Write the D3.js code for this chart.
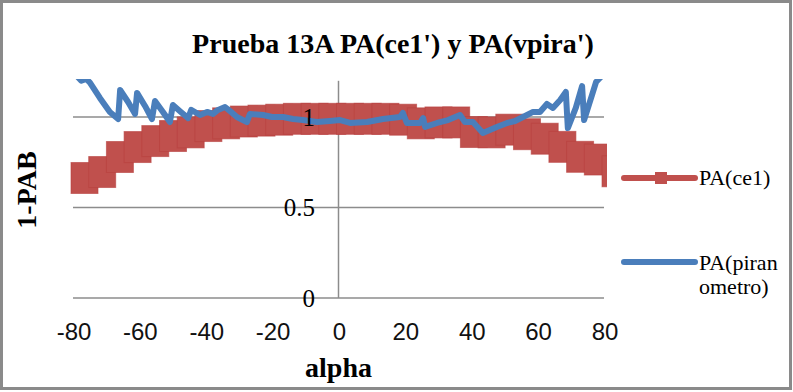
<!DOCTYPE html>
<html>
<head>
<meta charset="utf-8">
<script src="https://cdn.jsdelivr.net/npm/d3@7/dist/d3.min.js"></script>
<style>
  body { margin: 0; background: #fff; }
</style>
</head>
<body>
<svg id="chart" width="793" height="392"></svg>
<script>
// PA(ce1) - 31 points from -80 to 80
const alphaCe1 = [-80, -74.67, -69.33, -64, -58.67, -53.33, -48, -42.67, -37.33, -32, -26.67,
  -21.33, -16, -10.67, -5.33, 0, 5.33, 10.67, 16, 21.33, 26.67, 32, 37.33, 42.67, 48, 53.33,
  58.67, 64, 69.33, 74.67, 80];
const paCe1 = [0.663, 0.696, 0.779, 0.834, 0.867, 0.895, 0.915, 0.95, 0.965, 0.975, 0.98,
  0.985, 0.99, 0.99, 0.99, 0.99, 0.99, 0.99, 0.985, 0.965, 0.97, 0.97, 0.917, 0.915, 0.93, 0.905,
  0.88, 0.835, 0.78, 0.765, 0.70];

// PA(piranometro)
const alphaPiran = [-80, -77.5, -76, -74.9, -71.9, -68.9, -66.4, -65.8, -63.4, -61.3, -60.7,
  -58.3, -56.2, -55.3, -52.9, -50.8, -49.9, -47.5, -45.3, -44.4, -41.7, -39.6, -37.8, -36.3,
  -34.2, -32.4, -30.6, -27.6, -26.7, -22.7, -20.0, -16.7, -13.7, -10.7, -6.5, -2.6, 0.5, 3.5,
  8.6, 13.4, 18.5, 19.4, 20.6, 24.6, 25.5, 26.1, 29.7, 33.0, 36.6, 38.1, 40.5, 43.5, 45.6, 47.7,
  50.8, 53.2, 55.6, 58.6, 60.7, 62.8, 64.6, 66.8, 68.5, 69.1, 71.5, 73.4, 74.0, 76.4, 77.6, 80];
const paPiran = [1.25, 1.2, 1.21, 1.19, 1.105, 1.028, 0.989, 1.149, 1.083, 1.017, 1.133,
  1.061, 0.989, 1.088, 1.028, 0.972, 1.066, 1.028, 0.994, 1.039, 1.011, 1.028, 1.017, 1.039,
  1.055, 1.028, 1.0, 0.972, 1.017, 1.011, 1.0, 1.0, 0.989, 0.983, 0.972, 0.978, 0.983, 0.967,
  0.972, 0.989, 1.0, 1.022, 0.967, 0.967, 0.994, 0.945, 0.967, 0.983, 1.011, 0.972, 0.972, 0.912,
  0.928, 0.945, 0.967, 0.978, 1.0, 1.028, 1.028, 1.072, 1.05, 1.094, 1.138, 0.939, 1.05, 1.171,
  0.983, 1.122, 1.193, 1.24];

const xTicks = [-80, -60, -40, -20, 0, 20, 40, 60, 80];
const yTicks = [0, 0.5, 1];
const legendCe1 = ["PA(ce1)"];
const legendPiran = ["PA(piran", "ometro)"];

const red = "#c0504d", blue = "#4a7ebb";
const serif = "'Liberation Serif', 'Times New Roman', serif";
const sans = "'Liberation Sans', Arial, sans-serif";

const svg = d3.select("#chart");

// outer frame
svg.append("rect")
  .attr("x", 1.5).attr("y", 1.5)
  .attr("width", 789).attr("height", 387)
  .attr("fill", "#fff")
  .attr("stroke", "#8a8a8a")
  .attr("stroke-width", 3);

const x = d3.scaleLinear().domain([-80, 80]).range([73, 604]);
const y = d3.scaleLinear().domain([0, 1.2]).range([298, 80.8]);

svg.append("defs").append("clipPath").attr("id", "plotclip")
  .append("rect").attr("x", 69).attr("y", 79).attr("width", 538).attr("height", 222);

// gridlines
svg.append("g").selectAll("line")
  .data(yTicks)
  .join("line")
  .attr("x1", x(-80)).attr("x2", x(80))
  .attr("y1", d => y(d)).attr("y2", d => y(d))
  .attr("stroke", "#8c8c8c")
  .attr("stroke-width", 1.5);

// vertical axis at x = 0
svg.append("line")
  .attr("x1", x(0)).attr("x2", x(0))
  .attr("y1", y(1.2)).attr("y2", y(0))
  .attr("stroke", "#8c8c8c")
  .attr("stroke-width", 1.5);

// x tick labels
svg.append("g").selectAll("text")
  .data(xTicks)
  .join("text")
  .attr("x", d => x(d) + 1)
  .attr("y", 340)
  .attr("text-anchor", "middle")
  .style("font-family", sans)
  .style("font-size", "24px")
  .attr("fill", "#111")
  .text(d => d);

const plot = svg.append("g").attr("clip-path", "url(#plotclip)");

// PA(ce1): big square markers
const ce1 = alphaCe1.map((a, i) => ({a: a, v: paCe1[i]}));
const mw = 27, mh = 31;
plot.append("g").selectAll("rect")
  .data(ce1)
  .join("rect")
  .attr("x", d => x(d.a) - 2)
  .attr("y", d => y(d.v) - mh / 2)
  .attr("width", mw)
  .attr("height", mh)
  .attr("fill", red)
  .attr("stroke", "#b8403d")
  .attr("stroke-opacity", 0.6)
  .attr("stroke-width", 1);

// PA(piranometro) line
const piran = alphaPiran.map((a, i) => ({a: a, v: paPiran[i]}));
plot.append("path")
  .datum(piran)
  .attr("fill", "none")
  .attr("stroke", blue)
  .attr("stroke-width", 6)
  .attr("stroke-linejoin", "round")
  .attr("stroke-linecap", "round")
  .attr("d", d3.line().x(d => x(d.a)).y(d => y(d.v)));

// y tick labels next to the axis, over the series
svg.append("g").selectAll("text")
  .data(yTicks)
  .join("text")
  .attr("x", 315)
  .attr("y", d => y(d))
  .attr("dy", "0.34em")
  .attr("text-anchor", "end")
  .style("font-family", serif)
  .style("font-size", "25px")
  .attr("fill", "#000")
  .text(d => d3.format("")(d));

// title
svg.append("text")
  .attr("x", 393).attr("y", 53)
  .attr("text-anchor", "middle")
  .style("font-family", serif)
  .style("font-size", "28px")
  .style("font-weight", "bold")
  .text("Prueba 13A PA(ce1') y PA(vpira')");

// axis titles
svg.append("text")
  .attr("transform", "translate(36,190) rotate(-90)")
  .attr("text-anchor", "middle")
  .style("font-family", serif)
  .style("font-size", "28px")
  .style("font-weight", "bold")
  .text("1-PAB");

svg.append("text")
  .attr("x", 338.5).attr("y", 377)
  .attr("text-anchor", "middle")
  .style("font-family", serif)
  .style("font-size", "28px")
  .style("font-weight", "bold")
  .text("alpha");

// legend
const leg = svg.append("g");
leg.append("line")
  .attr("x1", 624).attr("x2", 695).attr("y1", 178).attr("y2", 178)
  .attr("stroke", red).attr("stroke-width", 6).attr("stroke-linecap", "round");
leg.append("rect")
  .attr("x", 655).attr("y", 172).attr("width", 12).attr("height", 12)
  .attr("fill", red);
leg.append("g").selectAll("text")
  .data(legendCe1)
  .join("text")
  .attr("x", 699).attr("y", (d, i) => 178 + i * 24)
  .attr("dy", "0.34em")
  .style("font-family", serif)
  .style("font-size", "22px")
  .text(d => d);

leg.append("line")
  .attr("x1", 624).attr("x2", 695).attr("y1", 262).attr("y2", 262)
  .attr("stroke", blue).attr("stroke-width", 6).attr("stroke-linecap", "round");
leg.append("g").selectAll("text")
  .data(legendPiran)
  .join("text")
  .attr("x", 699).attr("y", (d, i) => 263 + i * 24)
  .attr("dy", "0.34em")
  .style("font-family", serif)
  .style("font-size", "22px")
  .text(d => d);
</script>
</body>
</html>
